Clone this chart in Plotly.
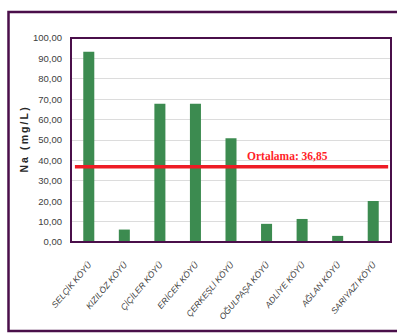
import plotly.graph_objects as go

# Sodium concentration per village (mg/L)
villages = [
    "SELÇİK KÖYÜ", "KIZILÖZ KÖYÜ", "ÇİÇİLER KÖYÜ", "ERİCEK KÖYÜ",
    "ÇERKEŞLİ KÖYÜ", "OĞULPAŞA KÖYÜ", "ADLİYE KÖYÜ", "AĞLAN KÖYÜ",
    "SARIYAZI KÖYÜ",
]
na_values = [93.2, 6.1, 67.8, 67.8, 50.9, 8.9, 11.3, 3.0, 20.1]
mean_value = 36.85
mean_label = "Ortalama: 36,85"
y_ticks = [0, 10, 20, 30, 40, 50, 60, 70, 80, 90, 100]
y_title = "Na (mg/L)"

W, H = 397, 334
L, R, T, B = 71, 6, 38, 92
pw, ph = W - L - R, H - T - B

def px_x(x):
    return (x - L) / pw

def px_y(y):
    return (H - B - y) / ph

def spaced(s):
    # widen the axis title with thin spaces between glyphs
    return "\u2009".join(s)

frame = "#4a0f4a"

fig = go.Figure()
fig.add_trace(go.Bar(
    x=villages, y=na_values, width=0.31,
    marker=dict(color="#3c8b50", line=dict(width=0)),
    hoverinfo="x+y",
))

# average line across the chart
fig.add_shape(type="line", xref="x", yref="y",
              x0=-0.39, x1=8.42, y0=mean_value, y1=mean_value,
              line=dict(color="#ee1c25", width=3.5), layer="above")
fig.add_annotation(x=4.4, y=mean_value, xref="x", yref="y",
                   text=f"<b>{mean_label}</b>", showarrow=False,
                   xanchor="left", yanchor="bottom", yshift=3,
                   font=dict(family="Liberation Serif, Times New Roman", size=11.5, color="#ff1f2a"))

# outer frame
fig.add_shape(type="rect", xref="paper", yref="paper",
              x0=px_x(8.5), x1=px_x(402), y0=px_y(331), y1=px_y(12),
              line=dict(color=frame, width=2.5), layer="below")
# plot area frame
fig.add_shape(type="rect", xref="paper", yref="paper",
              x0=0, x1=1, y0=0, y1=1,
              line=dict(color=frame, width=2), layer="above")

fig.update_layout(
    width=W, height=H,
    margin=dict(l=L, r=R, t=T, b=B, autoexpand=False),
    paper_bgcolor="white", plot_bgcolor="white",
    separators=", ",
    showlegend=False,
    bargap=0.69,
)
fig.update_xaxes(
    range=[-0.5, 8.5], showgrid=False, showline=False,
    tickangle=-50, ticklabelstandoff=15,
    tickfont=dict(family="Liberation Sans Narrow, Arial Narrow, Liberation Sans", size=8.5, color="#404040", style="italic"),
    automargin=False,
)
fig.update_yaxes(
    range=[0, 100], tickvals=y_ticks, tickformat=".2f",
    showgrid=True, gridcolor="#dcdcdc", gridwidth=1,
    zeroline=False, showline=False, ticklabelstandoff=8,
    tickfont=dict(family="Liberation Sans Narrow, Arial Narrow, Liberation Sans", size=9.5, color="#404040"),
    title=dict(text=spaced(y_title), standoff=2,
               font=dict(family="Liberation Sans, Arial", size=10.5, color="#262626", weight=600)),
    automargin=False,
)

fig.write_html("out.html")
